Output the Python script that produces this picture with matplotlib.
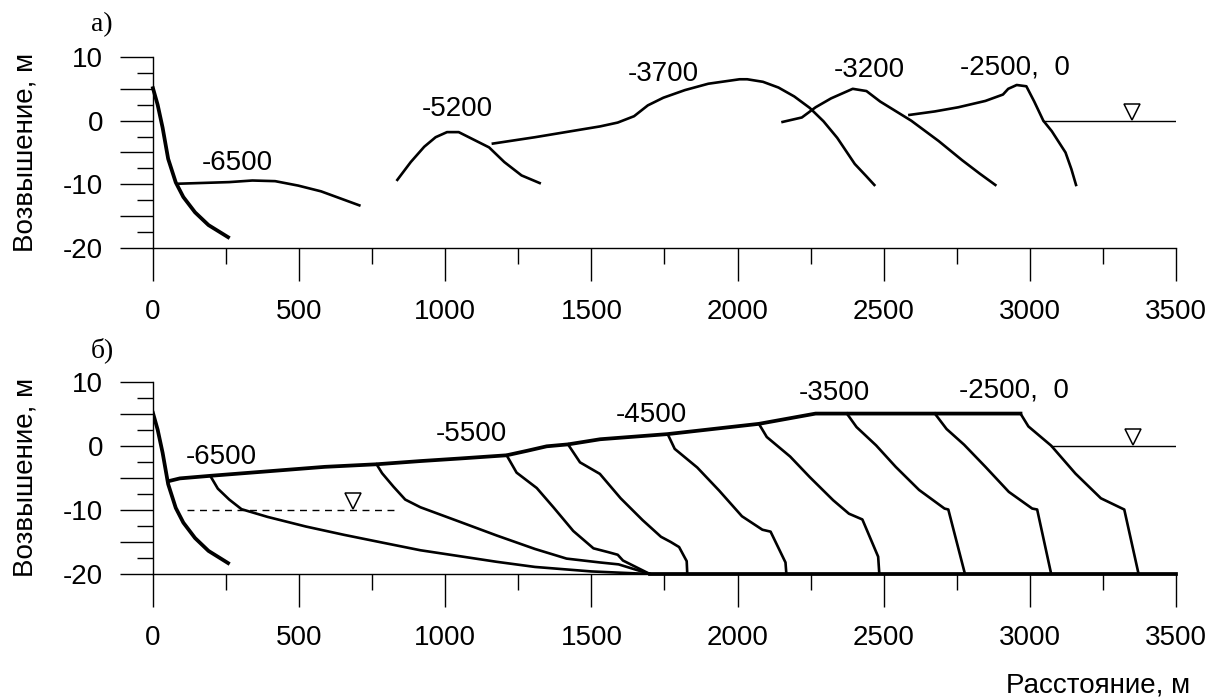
import numpy as np
import matplotlib
matplotlib.use('Agg')
import matplotlib.pyplot as plt
from matplotlib.ticker import MultipleLocator, FuncFormatter

plt.rcParams['font.family'] = ['Liberation Sans', 'DejaVu Sans']

# береговой уступ (одинаковый на обоих графиках)
bluff_x = [0, 16, 33, 52, 78, 104, 144, 190, 257]
bluff_y = [5.1, 2.5, -1.1, -6.0, -9.7, -12.0, -14.4, -16.4, -18.3]

# a) профили
a6500_x = [89, 261, 340, 418, 497, 575, 706]
a6500_y = [-9.9, -9.65, -9.4, -9.5, -10.2, -11.1, -13.3]
a5200_x = [836, 882, 928, 967, 1006, 1046, 1098, 1150, 1202, 1261, 1323]
a5200_y = [-9.3, -6.5, -4.1, -2.6, -1.8, -1.8, -3.0, -4.2, -6.5, -8.6, -9.8]
a3700_x = [1163, 1307, 1438, 1530, 1590, 1646, 1693, 1746, 1820, 1900, 2007,
           2033, 2087, 2140, 2194, 2247, 2294, 2341, 2401, 2440, 2468]
a3700_y = [-3.6, -2.6, -1.6, -0.9, -0.3, 0.7, 2.4, 3.6, 4.8, 5.8, 6.5,
           6.5, 6.1, 5.2, 3.8, 2.0, -0.1, -2.7, -6.8, -8.7, -10.1]
a3200_x = [2154, 2220, 2267, 2320, 2394, 2441, 2488, 2594, 2688, 2768, 2828, 2882]
a3200_y = [-0.2, 0.5, 2.1, 3.5, 5.0, 4.65, 3.0, 0.0, -3.2, -6.2, -8.3, -10.1]
a2500_x = [2588, 2675, 2755, 2848, 2908, 2926, 2955, 2988, 3015, 3046, 3075,
           3122, 3142, 3158]
a2500_y = [0.9, 1.45, 2.1, 3.1, 4.1, 5.0, 5.6, 5.4, 3.0, 0.0, -1.65,
           -5.0, -7.6, -10.1]
a_water_x = [3046, 3496]
a_labels = ['-6500', '-5200', '-3700', '-3200', '-2500,  0']
a_label_x = [288, 1040, 1745, 2450, 2950]
a_label_y = [-6.7, 1.9, 7.4, 7.9, 8.4]

# б) профили
surf_x = [56, 92, 196, 392, 588, 765, 915, 1050, 1210, 1280, 1347, 1420,
          1530, 1760, 2073, 2267, 2968]
surf_y = [-5.5, -5.1, -4.7, -4.0, -3.3, -2.9, -2.4, -2.0, -1.5, -0.8, -0.1, 0.2,
          1.0, 1.8, 3.4, 5.0, 5.0]
b1_x = [196, 222, 261, 303, 392, 523, 654, 784, 915, 1046, 1176, 1307, 1500, 1700]
b1_y = [-4.7, -6.7, -8.4, -9.9, -11.1, -12.6, -13.9, -15.1, -16.3, -17.2,
        -18.1, -18.9, -19.6, -20.0]
b2_x = [765, 784, 823, 863, 915, 1046, 1176, 1307, 1415, 1529, 1593, 1700]
b2_y = [-2.9, -4.3, -6.4, -8.4, -9.6, -11.8, -14.0, -16.1, -17.6, -18.2, -18.5, -20.0]
b3_x = [1210, 1244, 1313, 1370, 1438, 1507, 1558, 1590, 1608, 1700]
b3_y = [-1.5, -4.2, -6.6, -9.6, -13.3, -16.0, -16.6, -17.0, -17.9, -20.0]
b4_x = [1420, 1461, 1529, 1600, 1675, 1738, 1771, 1800, 1826, 1828]
b4_y = [0.2, -2.6, -4.4, -8.2, -11.6, -14.2, -15.0, -15.8, -18.0, -20.0]
b5_x = [1762, 1785, 1862, 1937, 2015, 2085, 2113, 2164, 2167]
b5_y = [1.7, -0.5, -3.4, -7.0, -11.0, -13.1, -13.4, -18.2, -20.0]
b6_x = [2073, 2100, 2180, 2247, 2327, 2381, 2427, 2481, 2485]
b6_y = [3.4, 1.35, -1.7, -4.9, -8.5, -10.6, -11.5, -17.3, -20.0]
b7_x = [2374, 2407, 2474, 2541, 2621, 2708, 2721, 2778]
b7_y = [5.0, 2.9, 0.05, -3.3, -6.9, -9.8, -9.95, -20.0]
b8_x = [2675, 2715, 2775, 2848, 2928, 3008, 3025, 3073]
b8_y = [5.0, 2.6, 0.15, -3.3, -7.2, -9.8, -9.95, -20.0]
b9_x = [2968, 2995, 3073, 3156, 3243, 3316, 3323, 3372]
b9_y = [5.0, 3.0, 0.0, -4.35, -8.2, -9.8, -9.95, -20.0]
base_x = [1700, 3500]
base_y = [-20, -20]
b_water_x = [3073, 3496]
b_lake_x = [118, 843]
b_lake_level = -10
b_labels = ['-6500', '-5500', '-4500', '-3500', '-2500,  0']
b_label_x = [235, 1091, 1706, 2330, 2945]
b_label_y = [-1.7, 1.8, 4.8, 8.2, 8.6]

tri_a_x = 3350
tri_b_x = [686, 3352]


def setup_axes(ax):
    ax.set_xlim(0, 3500)
    ax.set_ylim(-20, 10)
    for s in ['top', 'right']:
        ax.spines[s].set_visible(False)
    ax.spines['left'].set_linewidth(1.0)
    ax.spines['bottom'].set_linewidth(1.0)
    ax.xaxis.set_major_locator(MultipleLocator(500))
    ax.xaxis.set_minor_locator(MultipleLocator(250))
    ax.yaxis.set_major_locator(MultipleLocator(5))
    ax.yaxis.set_minor_locator(MultipleLocator(2.5))
    ax.yaxis.set_major_formatter(FuncFormatter(
        lambda v, p: '%d' % v if abs(v) % 10 == 0 else ''))
    ax.tick_params(axis='x', which='major', length=24, width=1.0, pad=12.5,
                   labelsize=20)
    ax.tick_params(axis='x', which='minor', length=11.5, width=1.0)
    ax.tick_params(axis='y', which='major', length=24, width=1.0, pad=12,
                   labelsize=20)
    ax.tick_params(axis='y', which='minor', length=11.5, width=1.0)
    ax.set_ylabel('Возвышение, м', fontsize=20, va='center')
    ax.yaxis.set_label_coords(-0.125, 0.5)


fig = plt.figure(figsize=(12.13, 7.0), dpi=100)
ax1 = fig.add_axes([0.1261, 0.6457, 0.8434, 0.2729])
ax2 = fig.add_axes([0.1261, 0.18, 0.8434, 0.275])

thin = 1.9
thick = 2.7

# --- a)
setup_axes(ax1)
ax1.plot(bluff_x, bluff_y, color='black', lw=thick, clip_on=False)
for xs, ys in [(a6500_x, a6500_y), (a5200_x, a5200_y), (a3700_x, a3700_y),
               (a3200_x, a3200_y), (a2500_x, a2500_y)]:
    ax1.plot(xs, ys, color='black', lw=thin)
ax1.plot(a_water_x, [0, 0], color='black', lw=1.0)
ax1.plot(tri_a_x, 1.3, marker='v', ms=12, mfc='white', mec='black', mew=1.1)
for t, x, y in zip(a_labels, a_label_x, a_label_y):
    ax1.text(x, y, t, fontsize=20, ha='center', va='center')

# --- б)
setup_axes(ax2)
ax2.plot(bluff_x, bluff_y, color='black', lw=thick)
for xs, ys in [(b1_x, b1_y), (b2_x, b2_y), (b3_x, b3_y), (b4_x, b4_y),
               (b5_x, b5_y), (b6_x, b6_y), (b7_x, b7_y), (b8_x, b8_y),
               (b9_x, b9_y)]:
    ax2.plot(xs, ys, color='black', lw=thin)
ax2.plot(surf_x, surf_y, color='black', lw=thick)
ax2.plot(base_x, base_y, color='black', lw=thick, clip_on=False)
ax2.plot(b_water_x, [0, 0], color='black', lw=1.0)
ax2.plot(b_lake_x, [b_lake_level, b_lake_level], color='black', lw=1.0,
         ls=(0, (5, 4)))
ax2.plot(tri_b_x, [b_lake_level + 1.3, 1.3], ls='none', marker='v', ms=12,
         mfc='white', mec='black', mew=1.1)
for t, x, y in zip(b_labels, b_label_x, b_label_y):
    ax2.text(x, y, t, fontsize=20, ha='center', va='center')

fig.text(102 / 1213, 1 - 25 / 700, 'a)', fontsize=20, family='Liberation Serif',
         ha='center', va='center')
fig.text(102 / 1213, 1 - 350 / 700, 'б)', fontsize=20, family='Liberation Serif',
         ha='center', va='center')
fig.text(1190 / 1213, 1 - 686 / 700, 'Расстояние, м', fontsize=20,
         ha='right', va='center')

fig.savefig('out.png', dpi=100)
